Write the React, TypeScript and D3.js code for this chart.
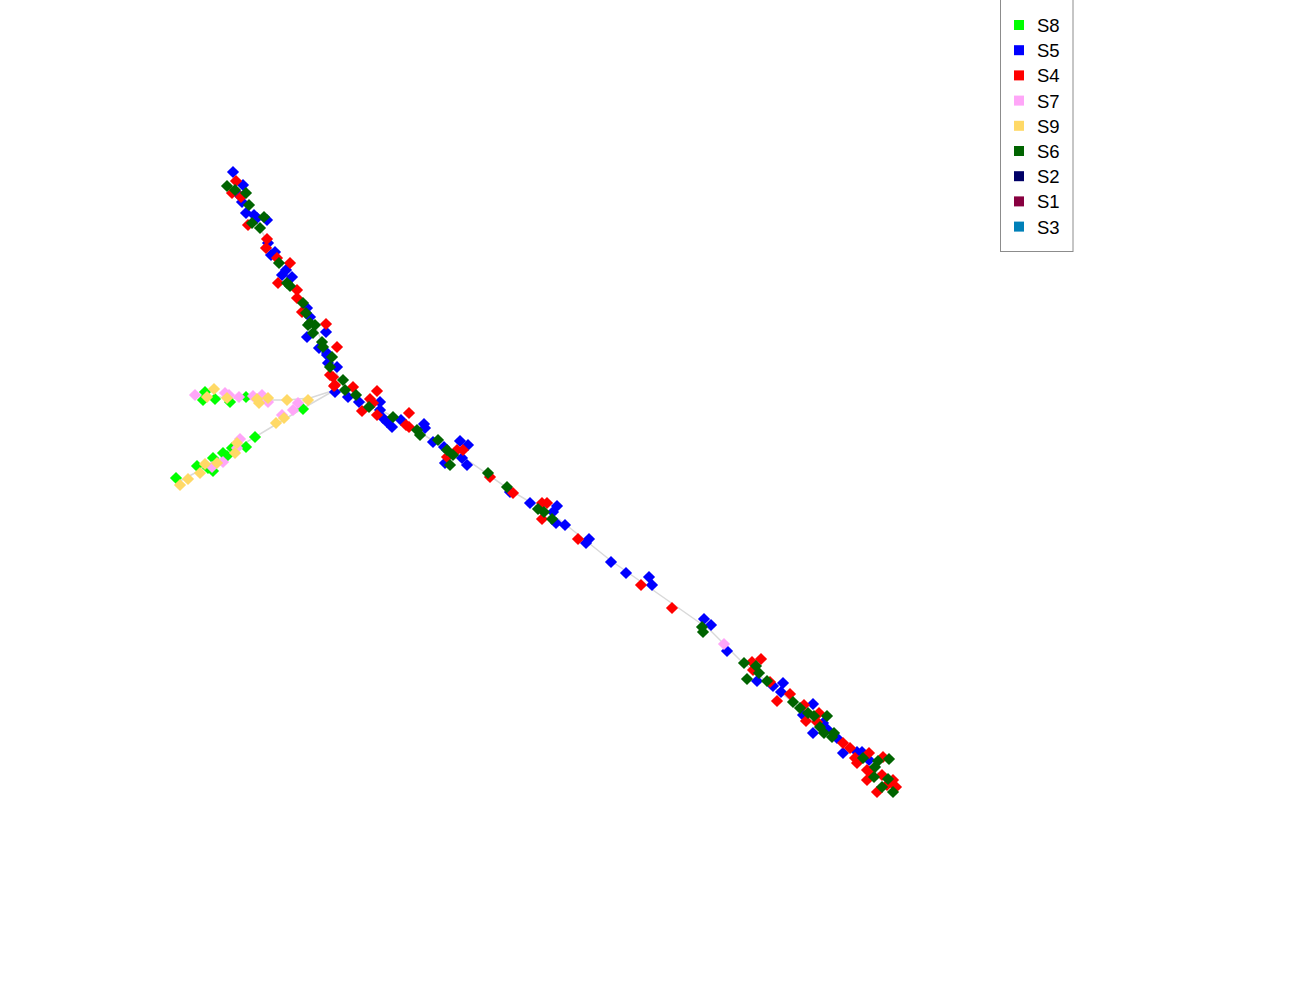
import { useMemo } from "react";
import * as d3 from "d3";

type Pt = [number, number];

// component 1 / component 2 coordinates per sample
const S8: Pt[] = [
  [-29.5, 10.8], [-29.7, 10.0], [-28.5, 10.1], [-27.0, 9.8], [-25.4, 10.3], [-19.7, 9.1],
  [-24.5, 6.3], [-25.4, 5.3], [-26.8, 5.2], [-27.7, 4.7], [-27.3, 4.4], [-28.7, 4.2],
  [-29.2, 3.2], [-28.7, 2.9], [-30.3, 3.4], [-32.4, 2.2],
];
const S5: Pt[] = [
  [-26.7, 32.8], [-25.7, 31.5], [-26.1, 30.5], [-25.8, 29.8], [-25.4, 28.7], [-24.6, 28.5],
  [-24.3, 28.2], [-23.3, 28.0], [-23.2, 25.7], [-22.9, 24.5], [-22.5, 24.8], [-21.4, 23.0],
  [-21.8, 22.5], [-20.8, 22.3], [-19.3, 19.2], [-19.0, 18.3], [-19.3, 16.3], [-17.4, 16.8],
  [-18.1, 15.2], [-17.3, 14.5], [-17.3, 14.7], [-16.3, 13.3], [-17.2, 13.7], [-16.5, 10.8],
  [-15.2, 10.3], [-14.1, 9.8], [-12.0, 9.8], [-12.0, 9.0], [-11.7, 8.2], [-11.3, 7.8],
  [-10.8, 7.3], [-9.9, 8.0], [-7.6, 7.6], [-7.5, 7.2], [-6.7, 5.8], [-5.6, 5.3],
  [-4.0, 5.9], [-3.2, 5.5], [-3.8, 4.2], [-5.5, 3.7], [-3.3, 3.5], [1.0, 0.8],
  [3.0, -0.3], [5.7, -0.6], [5.3, -1.2], [5.6, -2.3], [6.5, -2.5], [8.9, -3.9],
  [8.6, -4.3], [11.1, -6.2], [12.6, -7.3], [14.9, -7.7], [15.2, -8.5], [20.4, -11.9],
  [21.1, -12.5], [22.7, -15.1], [25.7, -18.1], [27.3, -18.6], [28.3, -18.3], [28.1, -19.2],
  [31.3, -20.4], [30.3, -21.5], [32.3, -22.3], [31.3, -23.3], [32.7, -22.9], [33.7, -23.8],
  [34.3, -25.3], [35.7, -25.2], [36.2, -25.2], [36.9, -26.0],
];
const S4: Pt[] = [
  [-26.4, 31.9], [-26.8, 30.7], [-25.9, 30.3], [-25.2, 27.5], [-23.3, 26.1], [-23.4, 25.2],
  [-22.3, 24.2], [-21.0, 23.7], [-22.2, 21.7], [-20.3, 21.0], [-20.3, 20.2], [-19.8, 18.8],
  [-17.4, 17.6], [-16.3, 15.3], [-16.7, 12.3], [-14.7, 11.3], [-17.0, 12.5], [-16.5, 11.5],
  [-16.6, 11.4], [-12.3, 10.9], [-13.0, 10.1], [-13.8, 8.9], [-12.7, 9.7], [-12.3, 8.5],
  [-9.1, 8.7], [-9.4, 7.5], [-9.1, 7.3], [-4.3, 5.0], [-5.3, 4.3], [-3.7, 5.0],
  [-1.0, 2.3], [1.3, 0.7], [4.2, -0.3], [4.7, -0.3], [4.2, -1.9], [7.8, -3.9],
  [14.1, -8.5], [17.2, -10.8], [25.2, -16.2], [26.1, -15.9], [25.3, -17.0], [27.0, -18.2],
  [29.0, -19.4], [27.7, -20.1], [30.4, -20.5], [30.6, -22.1], [31.9, -21.3], [31.7, -22.2],
  [34.3, -24.3], [35.0, -24.8], [36.9, -25.3], [35.5, -25.8], [35.7, -26.3], [38.3, -25.7],
  [36.7, -27.0], [37.0, -27.2], [36.7, -28.0], [38.2, -27.5], [39.3, -28.0], [38.7, -28.5],
  [39.6, -28.7], [37.7, -29.2],
];
const S7: Pt[] = [
  [-30.5, 10.5], [-27.5, 10.7], [-27.1, 10.5], [-26.1, 10.3], [-24.7, 10.4], [-23.8, 10.5],
  [-23.2, 9.8], [-20.2, 9.7], [-20.7, 9.0], [-21.8, 8.5], [-26.0, 6.1], [-26.3, 5.2],
  [-27.7, 3.8], [-28.8, 3.3], [22.4, -14.4],
];
const S9: Pt[] = [
  [-28.6, 11.1], [-29.3, 10.3], [-27.3, 10.2], [-24.3, 10.1], [-24.1, 9.7], [-23.2, 10.2],
  [-21.3, 10.0], [-19.2, 10.0], [-21.6, 8.2], [-22.4, 7.7], [-26.3, 5.7], [-26.5, 4.7],
  [-28.3, 3.7], [-29.5, 3.6], [-30.0, 2.7], [-31.2, 2.1], [-32.0, 1.5],
];
const S6: Pt[] = [
  [-27.3, 31.4], [-26.5, 31.0], [-25.4, 30.7], [-25.1, 29.5], [-24.8, 27.7], [-23.6, 28.3],
  [-24.0, 27.2], [-22.1, 23.7], [-21.3, 21.7], [-21.0, 21.4], [-19.7, 19.7], [-19.4, 18.7],
  [-19.0, 17.7], [-19.2, 17.5], [-18.5, 17.5], [-18.7, 16.7], [-17.8, 15.8], [-17.7, 15.3],
  [-16.8, 14.3], [-17.0, 13.3], [-15.7, 12.0], [-15.5, 11.0], [-14.4, 10.5], [-13.1, 9.3],
  [-10.7, 8.3], [-8.3, 7.0], [-8.0, 6.5], [-6.2, 6.0], [-5.3, 5.0], [-4.7, 4.5],
  [-5.0, 3.5], [-1.2, 2.7], [0.7, 1.3], [3.8, -0.9], [4.4, -1.2], [5.2, -1.9],
  [20.2, -12.7], [20.3, -13.2], [24.4, -16.3], [25.6, -16.6], [25.9, -17.3], [24.7, -17.9],
  [26.7, -18.1], [29.3, -20.2], [30.0, -20.8], [30.8, -21.3], [31.4, -21.6], [32.7, -21.6],
  [32.0, -22.7], [32.4, -23.3], [33.4, -23.3], [33.2, -23.7], [36.3, -25.8], [37.8, -26.1],
  [38.9, -25.9], [37.5, -26.7], [37.4, -27.7], [38.8, -27.9], [38.2, -28.7], [39.3, -29.2],
];
const S2: Pt[] = [];
const S1: Pt[] = [];
const S3: Pt[] = [];

// principal graph backbone
const TRUNK: Pt[] = [
  [-27.2, 31.7], [-25.2, 29.0], [-23.8, 26.8], [-22.0, 23.8], [-20.0, 20.2], [-18.4, 17.2],
  [-17.0, 14.0], [-16.0, 12.0], [-14.0, 10.0], [-10.0, 8.0], [-6.0, 5.5], [-3.0, 3.8],
  [1.0, 1.0], [6.0, -2.0], [11.0, -6.0], [16.0, -9.5], [21.0, -13.0], [24.0, -16.0],
  [29.0, -20.0], [33.0, -23.0], [37.0, -26.5], [39.2, -28.8],
];
const BRANCH_UP: Pt[] = [[-16.5, 11.0], [-19.0, 10.2], [-21.3, 10.0], [-24.0, 10.0], [-27.0, 10.2], [-30.5, 10.5]];
const BRANCH_LOW: Pt[] = [[-16.5, 11.0], [-20.0, 9.0], [-23.0, 7.2], [-26.0, 5.4], [-29.0, 3.5], [-32.2, 1.8]];

const LEGEND = ["S8", "S5", "S4", "S7", "S9", "S6", "S2", "S1", "S3"];
const COLORS: Record<string, string> = {
  S8: "#00FF00",
  S5: "#0000FF",
  S4: "#FF0000",
  S7: "#FFA6F8",
  S9: "#FFD966",
  S6: "#006400",
  S2: "#000066",
  S1: "#880040",
  S3: "#0080B8",
};
const SERIES: Record<string, Pt[]> = { S8, S5, S4, S7, S9, S6, S2, S1, S3 };

const W = 1300;
const H = 1000;

export default function App() {
  const x = d3.scaleLinear().domain([-50, 80]).range([0, W]);
  const y = d3.scaleLinear().domain([50, -50]).range([0, H]);
  const line = d3.line<Pt>().x((d) => x(d[0])).y((d) => y(d[1]));
  const diamond = useMemo(() => d3.symbol(d3.symbolSquare, 74)() || "", []);

  return (
    <svg width={W} height={H} style={{ position: "absolute", left: 0, top: 0, background: "#fff" }}>
      <g fill="none" stroke="#d9d9d9" strokeWidth={1.5}>
        {[TRUNK, BRANCH_UP, BRANCH_LOW].map((p, i) => (
          <path key={i} d={line(p) || ""} />
        ))}
      </g>
      {LEGEND.map((name) => (
        <g key={name} fill={COLORS[name]}>
          {SERIES[name].map((d, i) => (
            <path key={i} d={diamond} transform={`translate(${x(d[0])},${y(d[1])}) rotate(45)`} />
          ))}
        </g>
      ))}
      <g transform="translate(1000,0)" fontFamily="'Liberation Sans', Arial, sans-serif" fontSize={18.5}>
        <rect x={0.5} y={-1} width={72.5} height={252.5} fill="#fff" stroke="#8c8c8c" strokeWidth={1} />
        {LEGEND.map((name, i) => (
          <g key={name} transform={`translate(0,${25 + i * 25.2})`}>
            <rect x={14} y={-5} width={10} height={10} fill={COLORS[name]} />
            <text x={37} y={7} fill="#000">{name}</text>
          </g>
        ))}
      </g>
    </svg>
  );
}
